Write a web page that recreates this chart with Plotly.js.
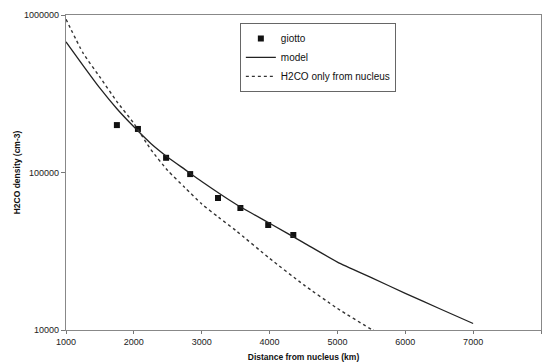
<!DOCTYPE html>
<html>
<head>
<meta charset="utf-8">
<script src="https://cdn.plot.ly/plotly-3.0.1.min.js"></script>
<style>html,body{margin:0;padding:0;background:#fff;}#chart{width:546px;height:362px;}</style>
</head>
<body>
<div id="chart"></div>
<script>
// Observed data (Giotto)
const giottoX = [1750, 2060, 2475, 2830, 3240, 3570, 3980, 4350];
const giottoY = [200000, 189000, 124000, 97700, 68900, 59500, 46400, 40100];

// Model curve
const modelX = [1000, 1250, 1500, 1750, 2000, 2250, 2500, 2750, 3000, 3500, 4000, 4500, 5000, 5500, 6000, 6500, 7000];
const modelY = [676000, 479000, 343000, 254000, 195000, 153000, 125000, 104700, 87700, 63100, 47600, 35900, 27000, 21500, 17100, 13700, 11000];

// H2CO only from nucleus
const nucX = [1000, 1250, 1500, 1750, 2000, 2250, 2500, 2750, 3000, 3250, 3500, 4000, 4500, 5000, 5500, 5550];
const nucY = [940000, 575000, 403000, 282000, 205000, 140000, 102800, 80400, 63100, 51900, 42900, 28500, 19400, 13700, 10100, 9850];

const xTicks = [1000, 2000, 3000, 4000, 5000, 6000, 7000, 8000];
const yTicks = [10000, 100000, 1000000];

const traces = [
  {x: giottoX, y: giottoY, name: 'giotto', type: 'scatter', mode: 'markers',
   marker: {symbol: 'square', size: 6, color: '#111'}},
  {x: modelX, y: modelY, name: 'model', type: 'scatter', mode: 'lines',
   line: {color: '#222', width: 1.3, shape: 'spline', smoothing: 0.5}},
  {x: nucX, y: nucY, name: 'H2CO only from nucleus', type: 'scatter', mode: 'lines',
   line: {color: '#333', width: 1.4, dash: 'dot', shape: 'spline', smoothing: 0.5}}
];

const fam = 'Liberation Sans, Arial, sans-serif';
const axisFont = {family: fam, size: 9, color: '#222'};

const layout = {
  width: 546, height: 362,
  margin: {l: 66, r: 5, t: 15, b: 32},
  paper_bgcolor: '#fff', plot_bgcolor: '#fff',
  showlegend: true,
  legend: {
    x: 0.366, y: 0.975, xanchor: 'left', yanchor: 'top',
    bgcolor: '#fff', bordercolor: '#666', borderwidth: 1,
    font: {family: fam, size: 10, color: '#111'},
    tracegroupgap: 0
  },
  xaxis: {
    range: [1000, 8000], tickvals: xTicks, ticktext: xTicks.map(String),
    showgrid: false, zeroline: false,
    showline: true, linecolor: '#888', linewidth: 1.2, mirror: true,
    ticks: 'outside', ticklen: 3, tickcolor: '#777',
    tickfont: axisFont,
    title: {text: 'Distance from nucleus (km)', font: {family: fam, size: 8.5, weight: 'bold', color: '#111'}, standoff: 8}
  },
  yaxis: {
    type: 'log', range: [4, 6], tickvals: yTicks, ticktext: yTicks.map(String),
    showgrid: false, zeroline: false,
    showline: true, linecolor: '#888', linewidth: 1.2, mirror: true,
    ticks: 'outside', ticklen: 4, tickcolor: '#777',
    tickfont: axisFont,
    title: {text: 'H2CO density (cm-3)', font: {family: fam, size: 8.5, weight: 'bold', color: '#111'}, standoff: 2}
  },
  xaxis2: {
    overlaying: 'x', anchor: 'y', range: [1000, 8000], tickvals: xTicks,
    showticklabels: false, showgrid: false, zeroline: false, showline: false,
    ticks: 'inside', ticklen: 3, tickcolor: '#777'
  },
  yaxis2: {
    overlaying: 'y', anchor: 'x', type: 'log', range: [4, 6], tickvals: yTicks,
    showticklabels: false, showgrid: false, zeroline: false, showline: false,
    ticks: 'inside', ticklen: 4, tickcolor: '#777'
  }
};

Plotly.newPlot('chart', traces, layout, {displayModeBar: false, staticPlot: true});
</script>
</body>
</html>
